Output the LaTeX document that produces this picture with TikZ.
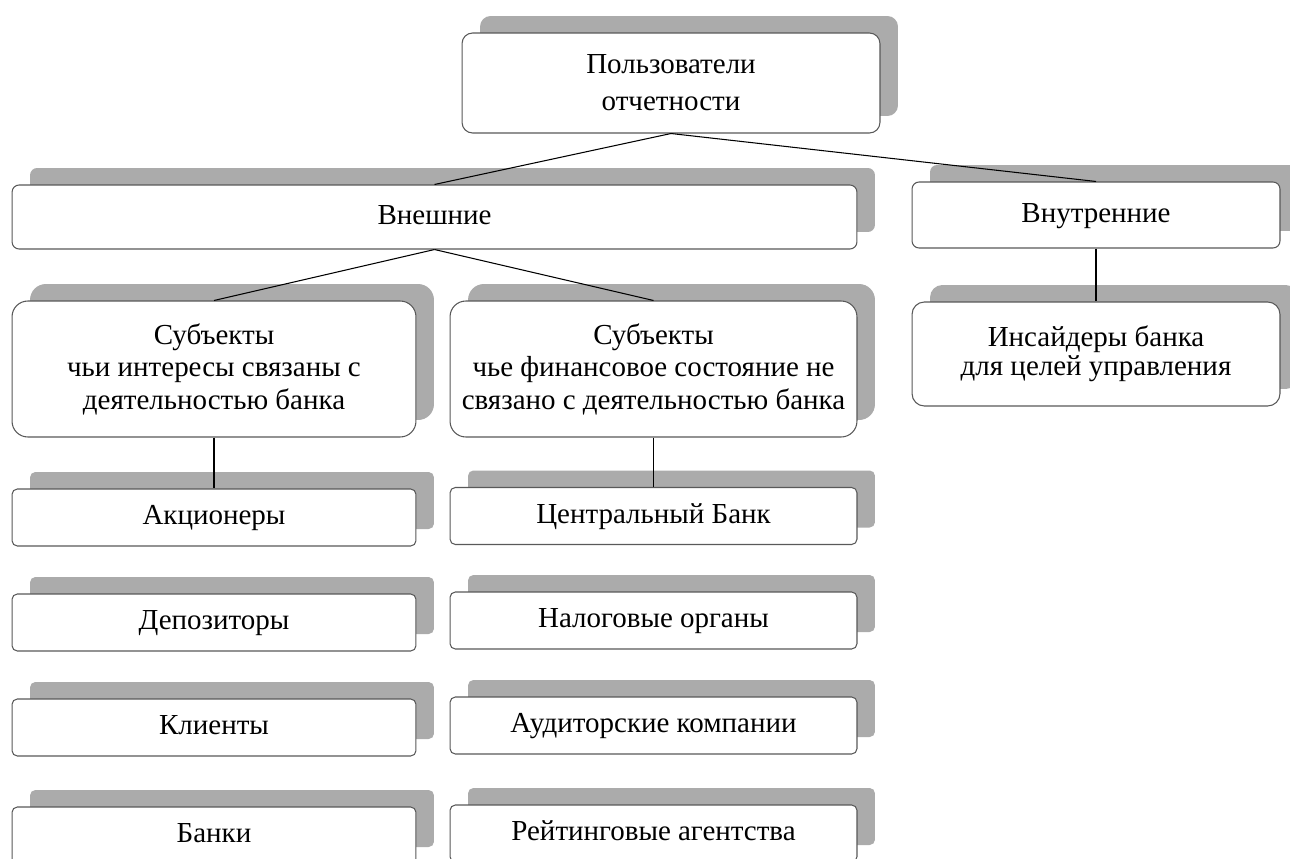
\documentclass[tikz,border=0pt]{standalone}
\usepackage{fontspec}
\setmainfont{Liberation Serif}
\usetikzlibrary{shadows}

\begin{document}
\begin{tikzpicture}[x=0.02cm, y=-0.02cm,
    box/.style={draw=black!65, line width=0.6pt, fill=white, rounded corners=4pt,
      align=center, inner sep=0pt, font=\fontsize{16.5}{18.5}\selectfont,
      drop shadow={shadow xshift=0.36cm, shadow yshift=0.34cm, fill=black!33, opacity=1}},
    single/.style={box, text height=11.5pt, text depth=3.5pt},
    small/.style={single, minimum height=1.14cm, rounded corners=3pt},
    conn/.style={draw, line width=0.6pt}]
    \useasboundingbox (0,0) rectangle (1290,858);
    \clip (0,0) rectangle (1290,858);

    \node[box, minimum width=8.36cm, minimum height=2cm, rounded corners=6pt,
      font=\fontsize{16.5}{21}\selectfont] (users) at (671,83) {Пользователи\\отчетности};
    \node[single, minimum width=16.9cm, minimum height=1.28cm] (ext) at (434.5,217) {Внешние};
    \node[single, minimum width=7.36cm, minimum height=1.32cm] (intl) at (1096,215) {Внутренние};

    \node[box, minimum width=8.08cm, minimum height=2.72cm, rounded corners=9pt] (subjone) at (214,369)
      {Субъекты\\чьи интересы связаны с\\деятельностью банка};
    \node[box, minimum width=8.14cm, minimum height=2.72cm, rounded corners=9pt] (subjtwo) at (653.5,369)
      {Субъекты\\чье финансовое состояние не\\связано с деятельностью банка};
    \node[box, minimum width=7.36cm, minimum height=2.08cm, rounded corners=7pt,
      font=\fontsize{16.5}{16.5}\selectfont] (ins) at (1096,354)
      {Инсайдеры банка\\для целей управления};

    \node[small, minimum width=8.08cm] (aone) at (214,517.5) {Акционеры};
    \node[small, minimum width=8.08cm] (atwo) at (214,622.5) {Депозиторы};
    \node[small, minimum width=8.08cm] (athree) at (214,727.5) {Клиенты};
    \node[small, minimum width=8.08cm] (afour) at (214,835.5) {Банки};

    \node[small, minimum width=8.14cm] (bone) at (653.5,516) {Центральный Банк};
    \node[small, minimum width=8.14cm] (btwo) at (653.5,620.5) {Налоговые органы};
    \node[small, minimum width=8.14cm] (bthree) at (653.5,725.5) {Аудиторские компании};
    \node[small, minimum width=8.14cm] (bfour) at (653.5,833.5) {Рейтинговые агентства};

    \draw[conn] (users.south) -- (ext.north);
    \draw[conn] (users.south) -- (intl.north);
    \draw[conn] (ext.south) -- (subjone.north);
    \draw[conn] (ext.south) -- (subjtwo.north);
    \draw[conn] (intl.south) -- (ins.north);
    \draw[conn] (subjone.south) -- (aone.north);
    \draw[conn] (subjtwo.south) -- (bone.north);
\end{tikzpicture}
\end{document}
